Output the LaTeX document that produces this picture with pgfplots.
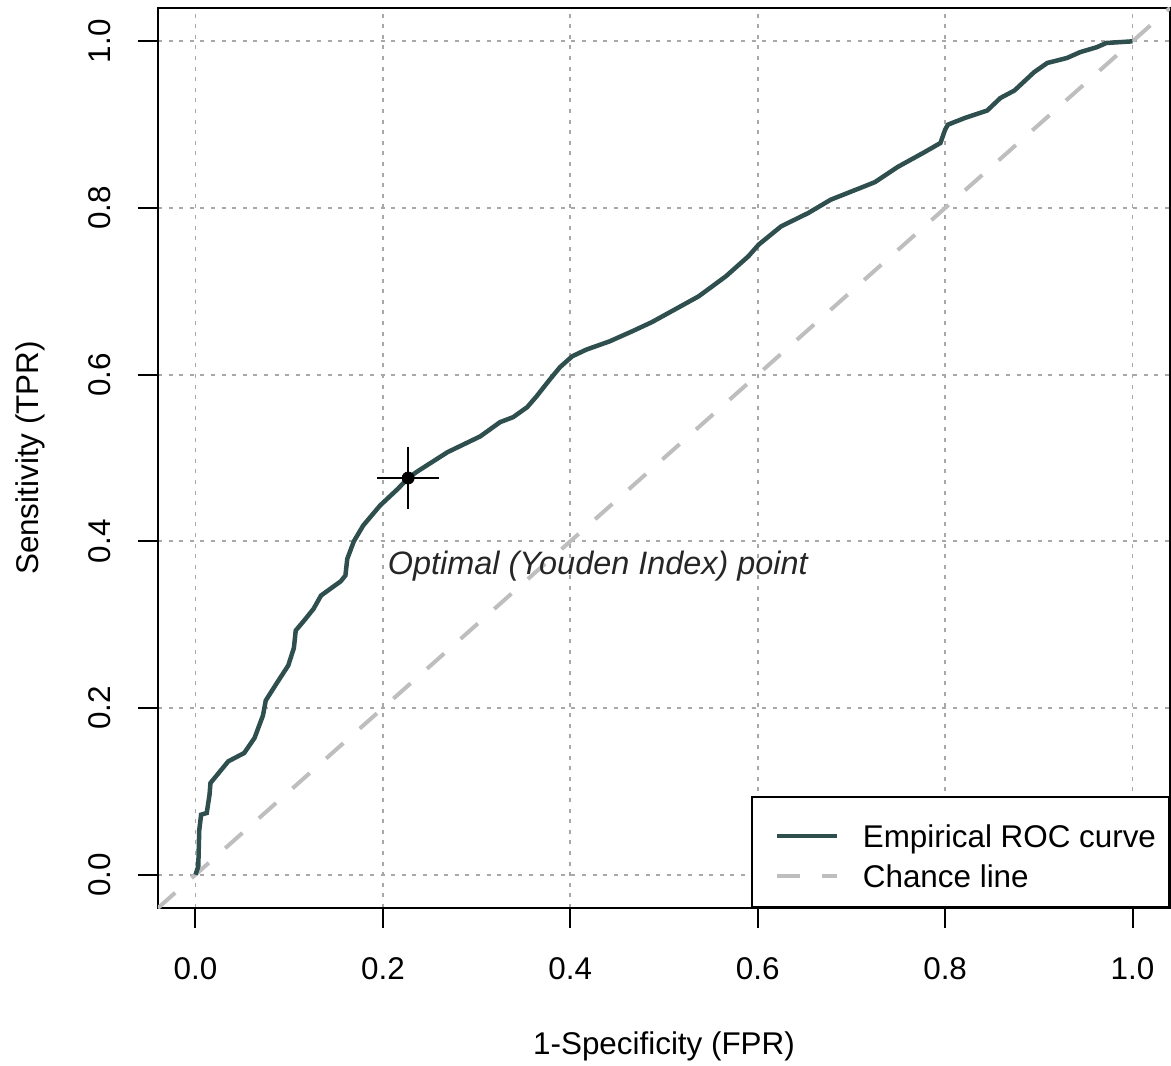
\documentclass[border=0pt]{standalone}
\usepackage{pgfplots}
\pgfplotsset{compat=1.18}
\usepackage{fontspec}
\setmainfont{Liberation Sans}
\definecolor{roc}{HTML}{2F4F4F}
\definecolor{chance}{HTML}{BEBEBE}
\definecolor{gridc}{HTML}{A8A8A8}
\begin{document}
\fontsize{15.7}{18.8}\selectfont
\begin{tikzpicture}
\begin{axis}[
  scale only axis, width=506pt, height=450pt,
  xmin=-0.04, xmax=1.04, ymin=-0.04, ymax=1.04,
  xtick={0,0.2,0.4,0.6,0.8,1}, ytick={0,0.2,0.4,0.6,0.8,1},
  tick pos=left, tick align=outside, major tick length=10pt,
  tick style={black, line width=1pt},
  axis line style={black, line width=1pt},
  grid=major,
  major grid style={draw=gridc, line width=0.85pt, dash pattern=on 2pt off 3.3pt},
  /pgf/number format/fixed, /pgf/number format/fixed zerofill,
  /pgf/number format/precision=1, /pgf/number format/assume math mode=true,
  xticklabel style={anchor=north, inner sep=0pt},
  yticklabel style={rotate=90, anchor=south, inner sep=0pt},
  xticklabel shift=14.4pt, yticklabel shift=13.4pt,
  every axis x label/.style={at={(axis description cs:0.5,0)}, yshift=-69pt, anchor=center},
  every axis y label/.style={at={(axis description cs:0,0.5)}, xshift=-64pt, rotate=90, anchor=center},
  xlabel={1-Specificity (FPR)},
  ylabel={Sensitivity (TPR)},
  legend style={at={(1,0)}, anchor=south east, draw=black, line width=1pt, fill=white,
    inner xsep=6.5pt, inner ysep=8pt, row sep=1pt, column sep=0pt,
    nodes={inner sep=0pt, text height=17pt, text depth=2pt, anchor=west}},
  legend cell align=left,
  legend image code/.code={\path[draw=none,fill=none] (0pt,-2pt) -- (49pt,-2pt); \draw[#1] (6pt,-2pt) -- (36pt,-2pt);},
]
\addlegendimage{roc, line width=2.25pt}
\addlegendentry{Empirical ROC curve}
\addlegendimage{chance, line width=2pt, dash pattern=on 11.5pt off 11pt}
\addlegendentry{Chance line}

\addplot[chance, line width=2pt, dash pattern=on 11.5pt off 11pt, forget plot] coordinates {(-0.04,-0.04) (1.04,1.04)};

\addplot[roc, line width=2.25pt, forget plot] table {
x y
0 0
0.003 0.010
0.004 0.053
0.006 0.072
0.012 0.074
0.015 0.096
0.016 0.110
0.035 0.136
0.052 0.146
0.063 0.164
0.072 0.191
0.075 0.209
0.088 0.232
0.099 0.251
0.105 0.272
0.107 0.293
0.116 0.305
0.126 0.319
0.134 0.335
0.155 0.352
0.160 0.359
0.162 0.379
0.169 0.400
0.179 0.419
0.197 0.443
0.216 0.463
0.227 0.476
0.237 0.484
0.269 0.507
0.304 0.526
0.325 0.543
0.339 0.549
0.354 0.561
0.364 0.574
0.378 0.594
0.389 0.609
0.402 0.622
0.417 0.630
0.442 0.640
0.466 0.652
0.487 0.663
0.508 0.676
0.537 0.694
0.566 0.718
0.590 0.742
0.601 0.756
0.625 0.778
0.654 0.794
0.678 0.810
0.696 0.818
0.725 0.831
0.749 0.849
0.778 0.867
0.795 0.878
0.800 0.894
0.803 0.900
0.821 0.908
0.845 0.917
0.859 0.932
0.874 0.941
0.895 0.963
0.909 0.974
0.930 0.980
0.944 0.987
0.962 0.993
0.972 0.998
1.000 1.000
};

\addplot[only marks, mark=*, mark size=3pt, black, forget plot] coordinates {(0.227,0.476)};
\addplot[only marks, mark=+, mark size=15.5pt, black, mark options={line width=1pt}, forget plot] coordinates {(0.227,0.476)};

\node[anchor=west, inner sep=0pt, font=\fontsize{16.2}{19}\selectfont\itshape, text=black!85] at (axis cs:0.205,0.370) {Optimal (Youden Index) point};
\end{axis}
\pgfresetboundingbox
\path[use as bounding box] ([xshift=-79pt,yshift=-78.5pt]current axis.south west) rectangle ([xshift=0.5pt,yshift=4pt]current axis.north east);
\end{tikzpicture}
\end{document}
